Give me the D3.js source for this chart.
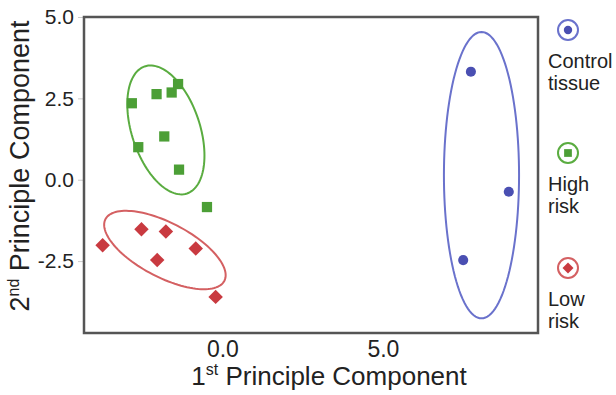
<!DOCTYPE html>
<html>
<head>
<meta charset="utf-8">
<script src="https://cdn.jsdelivr.net/npm/d3@7"></script>
<style>
  body { margin: 0; background: #fff; }
  text { font-family: "Liberation Sans", Arial, sans-serif; fill: #222; }
</style>
</head>
<body>
<div id="chart"></div>
<script>
// data
const groups = ["Control tissue", "High risk", "Low risk"];
const controlX = [7.74, 8.92, 7.50];
const controlY = [3.32, -0.37, -2.47];
const highX = [-2.82, -2.05, -1.58, -1.38, -1.81, -2.62, -1.35, -0.48];
const highY = [2.35, 2.63, 2.68, 2.94, 1.33, 1.00, 0.31, -0.84];
const lowX = [-3.73, -2.52, -1.76, -0.83, -2.03, -0.21];
const lowY = [-2.01, -1.52, -1.59, -2.11, -2.47, -3.60];
// ellipses: centre x, centre y, semi-axis a, semi-axis b, angle (deg)
const ellControl = [8.07, 0.14, 1.17, 4.40, 0];
const ellHigh = [-1.76, 1.53, 2.06, 1.06, 108.7];
const ellLow = [-1.79, -2.16, 2.08, 0.84, -27];
const xTicks = [0, 5];
const yTicks = [-2.5, 0, 2.5, 5];

const W = 616, H = 395;
const margin = { top: 17, right: 78, bottom: 62, left: 84 },
    width = W - margin.left - margin.right,
    height = H - margin.top - margin.bottom;

const svg = d3.select("#chart").append("svg")
    .attr("width", W).attr("height", H);
const g = svg.append("g").attr("transform", `translate(${margin.left},${margin.top})`);

const x = d3.scaleLinear().domain([-4.31, 9.83]).range([0, width]);
const y = d3.scaleLinear().domain([-4.71, 5.0]).range([height, 0]);

const colors = { "Control tissue": "#4a4fb2", "High risk": "#4c9f36", "Low risk": "#c93a40" };
const ellColors = { "Control tissue": "#6a72cc", "High risk": "#5aac40", "Low risk": "#d46062" };

const fmt = d => d3.format(".1f")(d).replace("\u2212", "-");

// axes
const xAxis = g.append("g").attr("transform", `translate(0,${height})`)
    .call(d3.axisBottom(x).tickValues(xTicks).tickFormat(fmt).tickSize(0).tickPadding(8));
xAxis.selectAll("text").style("font-size", "23px");
const yAxis = g.append("g")
    .call(d3.axisLeft(y).tickValues(yTicks).tickFormat(fmt).tickSize(6).tickPadding(4));
yAxis.selectAll("text").style("font-size", "21px");
[xAxis, yAxis].forEach(a => {
    a.select(".domain").remove();
    a.selectAll("text").style("fill", "#222")
        .style("font-family", "'Liberation Sans', Arial, sans-serif");
    a.selectAll("line").attr("stroke", "#ccc");
});

// ellipses
function ellipsePath(e) {
    const [cx, cy, a, b, ang] = e;
    const r = ang * Math.PI / 180;
    const pts = d3.range(0, 361, 3).map(t => {
        const tt = t * Math.PI / 180;
        const ex = a * Math.cos(tt), ey = b * Math.sin(tt);
        return [x(cx + ex * Math.cos(r) - ey * Math.sin(r)), y(cy + ex * Math.sin(r) + ey * Math.cos(r))];
    });
    return d3.line().curve(d3.curveLinearClosed)(pts);
}
[[ellControl, "Control tissue"], [ellHigh, "High risk"], [ellLow, "Low risk"]].forEach(([e, k]) => {
    g.append("path").attr("d", ellipsePath(e))
        .attr("fill", "none").attr("stroke", ellColors[k]).attr("stroke-width", 2);
});

// points
const sizes = { "Control tissue": 80, "High risk": 105, "Low risk": 105 };
function drawPts(xs, ys, k) {
    g.selectAll(null).data(xs.map((v, i) => [v, ys[i]])).enter().append("path")
        .attr("transform", d => `translate(${x(d[0])},${y(d[1])})` + (k === "Low risk" ? " rotate(45)" : ""))
        .attr("d", d3.symbol().type(k === "Control tissue" ? d3.symbolCircle : d3.symbolSquare).size(sizes[k]))
        .attr("fill", colors[k]);
}
drawPts(controlX, controlY, "Control tissue");
drawPts(highX, highY, "High risk");
drawPts(lowX, lowY, "Low risk");

// frame
g.append("rect").attr("width", width).attr("height", height)
    .attr("fill", "none").attr("stroke", "#555").attr("stroke-width", 2.5);

// axis titles
const xt = svg.append("text").attr("x", 329).attr("y", 385).attr("text-anchor", "middle")
    .style("font-size", "26px");
xt.append("tspan").text("1");
xt.append("tspan").attr("dy", -10).style("font-size", "16px").text("st");
xt.append("tspan").attr("dy", 10).text(" Principle Component");

const yt = svg.append("text").attr("transform", `translate(29,166) rotate(-90)`).attr("text-anchor", "middle")
    .style("font-size", "27px");
yt.append("tspan").text("2");
yt.append("tspan").attr("dy", -10).style("font-size", "16px").text("nd");
yt.append("tspan").attr("dy", 10).text(" Principle Component");

// legend
const legendY = [30, 153, 268];
const legendLines = [["Control", "tissue"], ["High", "risk"], ["Low", "risk"]];
groups.forEach((k, i) => {
    const lg = svg.append("g").attr("transform", `translate(568,${legendY[i]})`);
    lg.append("circle").attr("r", 10).attr("fill", "none").attr("stroke", ellColors[k]).attr("stroke-width", 2);
    lg.append("path")
        .attr("transform", k === "Low risk" ? "rotate(45)" : null)
        .attr("d", d3.symbol().type(k === "Control tissue" ? d3.symbolCircle : d3.symbolSquare).size(k === "Control tissue" ? 55 : 60))
        .attr("fill", colors[k]);
    legendLines[i].forEach((t, j) => {
        svg.append("text").attr("x", 548).attr("y", legendY[i] + 38 + j * 22)
            .style("font-size", "20px").text(t);
    });
});
</script>
</body>
</html>
